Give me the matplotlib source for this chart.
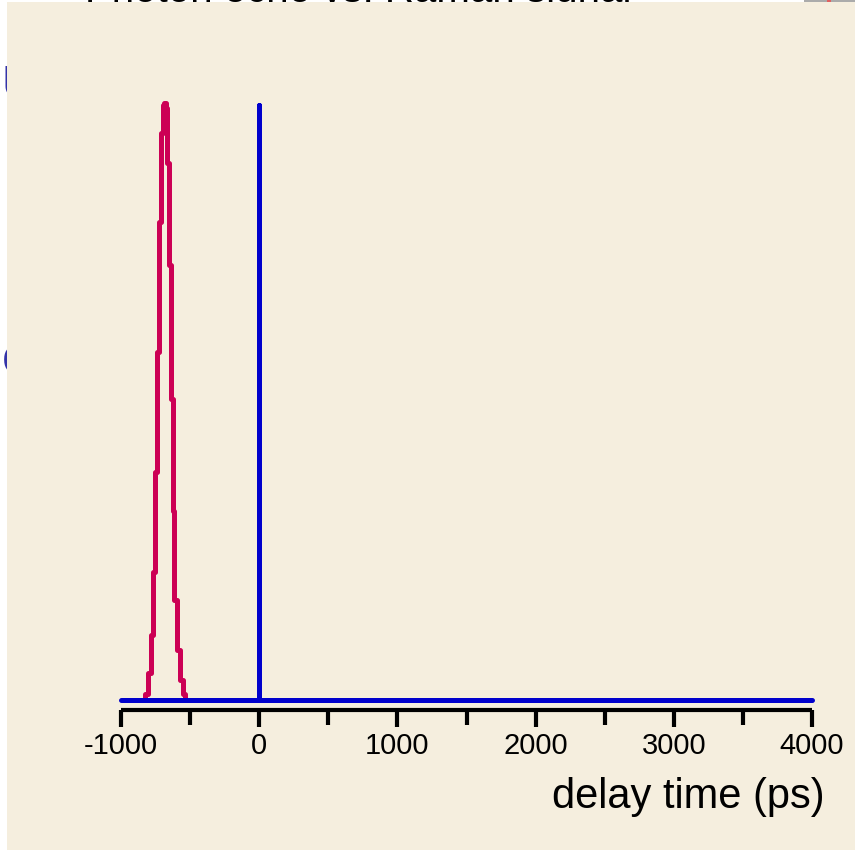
import matplotlib
matplotlib.use("Agg")
import matplotlib.pyplot as plt
from matplotlib.patches import Rectangle, Circle
from matplotlib.transforms import Bbox, TransformedBbox

# delay scan: stepped echo trace and the reference pulse at zero delay
red_t = [-850, -826, -802, -783, -768, -754, -742, -723, -708, -698, -687,
         -675, -669, -650, -640, -626, -614, -597, -573, -554, -537, -520]
red_y = [0.0, 0.01, 0.046, 0.109, 0.215, 0.383, 0.584, 0.802, 0.95, 0.997, 1.0,
         0.993, 0.90, 0.73, 0.505, 0.317, 0.168, 0.083, 0.033, 0.01, 0.0, 0.0]

blue_t = [-1000, 0, 0, 0, 4000]
blue_y = [0.0, 0.0, 0.997, 0.0, 0.0]

major_ticks = [-1000, 0, 1000, 2000, 3000, 4000]
minor_ticks = [-500, 500, 1500, 2500, 3500]
tick_labels = ["-1000", "0", "1000", "2000", "3000", "4000"]

W, H = 855, 850
BEIGE = "#F5EEDE"
RED = "#CC0055"
BLUE = "#0000CC"

fig = plt.figure(figsize=(W / 100, H / 100), dpi=100, facecolor="white")


def px_box(xa, ya, xb, yb):
    # pixel box (top-left origin) -> clip box in display coords
    return TransformedBbox(Bbox([[xa / W, 1 - yb / H], [xb / W, 1 - ya / H]]), fig.transFigure)


# slide background panel, with bits of the slide peeking out around it
fig.patches.append(Rectangle((7 / W, 0), 1 - 7 / W, 1 - 2 / H, transform=fig.transFigure,
                             facecolor=BEIGE, edgecolor="none", zorder=-1))
fig.patches.append(Rectangle((804 / W, 1 - 2 / H), 51 / W, 2 / H, transform=fig.transFigure,
                             facecolor="#ABABAB", edgecolor="none", zorder=-2))
fig.patches.append(Rectangle((827 / W, 1 - 2 / H), 4 / W, 2 / H, transform=fig.transFigure,
                             facecolor="#E06060", edgecolor="none", zorder=-2))

t = fig.text(85 / W, 1 - 2.5 / H, "Photon echo vs. Raman signal", fontsize=29,
             family="Liberation Sans", ha="left", va="baseline", zorder=-3)
t.set_clip_box(px_box(0, 0, W, 2))
t.set_clip_on(True)
for s, yb, fs in [("Ultrafast", 98, 33), ("coherence", 373, 36)]:
    t = fig.text(1.7 / W, 1 - yb / H, s, fontsize=fs, color="#3333A8",
                 family="Liberation Sans", ha="left", va="baseline", zorder=-3)
    t.set_clip_box(px_box(0, 0, 7, H))
    t.set_clip_on(True)

# axes placed so zero delay baseline sits just above the tick axis
x0, x1 = 121, 812
y_base, y_top, y_axis = 700, 103.5, 710
per_unit = y_base - y_top
ymin = -(y_axis - y_base) / per_unit
ymax = 1.05
top_px = y_top - (ymax - 1) * per_unit
ax = fig.add_axes([x0 / W, 1 - y_axis / H, (x1 - x0) / W, (y_axis - top_px) / H])
ax.patch.set_visible(False)

ax.plot(red_t, red_y, color=RED, lw=3.6, drawstyle="steps-post", zorder=2)
ax.plot(blue_t, blue_y, color=BLUE, lw=3.6, zorder=3, clip_on=False,
        solid_capstyle="round")

ax.set_xlim(-1000, 4000)
ax.set_ylim(ymin, ymax)
for side in ["left", "right", "top"]:
    ax.spines[side].set_visible(False)
ax.spines["bottom"].set_linewidth(3)
ax.spines["bottom"].set_capstyle("butt")
ax.set_yticks([])
ax.set_xticks(major_ticks)
ax.set_xticks(minor_ticks, minor=True)
ax.set_xticklabels(tick_labels)
ax.tick_params(axis="x", which="major", direction="out", length=12, width=3, pad=4)
ax.tick_params(axis="x", which="minor", direction="out", length=10.5, width=3)
for lbl in ax.get_xticklabels():
    lbl.set_fontfamily("Liberation Sans")
    lbl.set_fontsize(21)

fig.text(825 / W, 1 - 808 / H, "delay time (ps)", fontsize=30,
         family="Liberation Sans", ha="right", va="baseline")

fig.savefig("out.png", dpi=100, facecolor="white")
